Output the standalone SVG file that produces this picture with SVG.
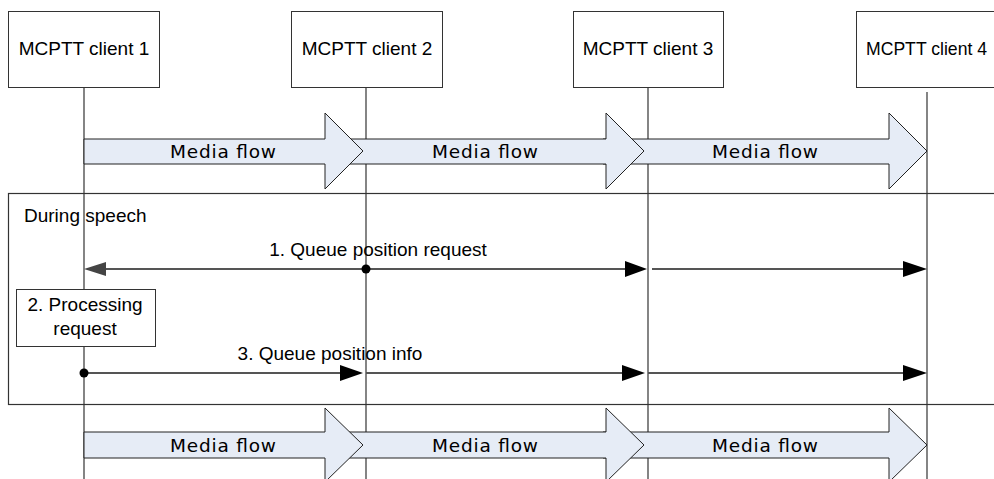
<svg xmlns="http://www.w3.org/2000/svg" width="994" height="479" viewBox="0 0 994 479">
<style>
.box{fill:#fff;stroke:#333;stroke-width:1}
.life{stroke:#333;stroke-width:1.2;fill:none}
.t{font-family:"Liberation Sans",Arial,sans-serif;font-size:19px;fill:#000}
.mf{fill:#e6ecf6;stroke:#222;stroke-width:1}
.mt{font-family:"DejaVu Sans",Verdana,sans-serif;font-size:18.5px;fill:#000}
.msg{stroke:#555;stroke-width:2;fill:none}
.head{fill:#000}
</style>
<rect width="994" height="479" fill="#fff"/>
<g id="frame">
<rect x="8.5" y="193.5" width="1000" height="211" fill="none" stroke="#333" stroke-width="1.2"/>
<text class="t" x="24" y="222">During speech</text>
</g>
<g id="lifelines">
<line class="life" x1="84" y1="87" x2="84" y2="479"/>
<line class="life" x1="366" y1="87" x2="366" y2="479"/>
<line class="life" x1="648" y1="87" x2="648" y2="479"/>
<line class="life" x1="927" y1="92" x2="927" y2="479" stroke="#666"/>
</g>
<g id="client1"><rect class="box" x="8.5" y="11.5" width="151" height="76"/><text class="t" x="84" y="55" text-anchor="middle">MCPTT client 1</text></g>
<g id="client2"><rect class="box" x="291.5" y="11.5" width="151" height="76"/><text class="t" x="367" y="55" text-anchor="middle">MCPTT client 2</text></g>
<g id="client3"><rect class="box" x="573.5" y="11.5" width="150" height="76"/><text class="t" x="648" y="55" text-anchor="middle">MCPTT client 3</text></g>
<g id="client4"><rect class="box" x="856.5" y="11.5" width="150" height="76"/><text class="t" x="866" y="55" textLength="121" lengthAdjust="spacingAndGlyphs">MCPTT client 4</text></g>
<g id="media-top">
<polygon class="mf" points="603,139 889,139 889,113 927,151 889,189 889,164 603,164"/>
<text class="mt" x="765" y="158" text-anchor="middle" textLength="106" lengthAdjust="spacing">Media flow</text>
<polygon class="mf" points="326,139 606,139 606,113 644,151 606,189 606,164 326,164"/>
<text class="mt" x="485" y="158" text-anchor="middle" textLength="106" lengthAdjust="spacing">Media flow</text>
<polygon class="mf" points="84,139 325,139 325,113 363,151 325,189 325,164 84,164"/>
<text class="mt" x="223" y="158" text-anchor="middle" textLength="106" lengthAdjust="spacing">Media flow</text>
</g>
<g id="media-bottom">
<polygon class="mf" points="603,432 889,432 889,408 927,445 889,482 889,458 603,458"/>
<text class="mt" x="765" y="452" text-anchor="middle" textLength="106" lengthAdjust="spacing">Media flow</text>
<polygon class="mf" points="326,432 606,432 606,408 644,445 606,482 606,458 326,458"/>
<text class="mt" x="485" y="452" text-anchor="middle" textLength="106" lengthAdjust="spacing">Media flow</text>
<polygon class="mf" points="84,432 325,432 325,408 363,445 325,482 325,458 84,458"/>
<text class="mt" x="223" y="452" text-anchor="middle" textLength="106" lengthAdjust="spacing">Media flow</text>
</g>
<g id="processing">
<rect class="box" x="16.5" y="289.5" width="139" height="57"/>
<text class="t" x="85" y="311" text-anchor="middle">2. Processing</text>
<text class="t" x="85" y="335" text-anchor="middle">request</text>
</g>
<g id="connectors">
<line class="msg" x1="366" y1="269" x2="100" y2="269" stroke="#777"/>
<polygon points="84,269 106,262 106,276" fill="#444"/>
<line class="msg" x1="366" y1="269" x2="628" y2="269"/>
<polygon class="head" points="647,269 625,261 625,277"/>
<line class="msg" x1="652" y1="269" x2="906" y2="269"/>
<polygon class="head" points="927,269 903,261 903,277"/>
<circle cx="366" cy="269" r="4.5" fill="#000"/>
<text class="t" x="378" y="256" text-anchor="middle">1. Queue position request</text>
<line class="msg" x1="84" y1="373" x2="342" y2="373"/>
<polygon class="head" points="363,373 340,365 340,381"/>
<line class="msg" x1="366" y1="373" x2="624" y2="373"/>
<polygon class="head" points="645,373 622,365 622,381"/>
<line class="msg" x1="648" y1="373" x2="906" y2="373"/>
<polygon class="head" points="927,373 903,365 903,381"/>
<circle cx="84" cy="373" r="4.5" fill="#000"/>
<text class="t" x="330" y="360" text-anchor="middle">3. Queue position info</text>
</g>
</svg>
